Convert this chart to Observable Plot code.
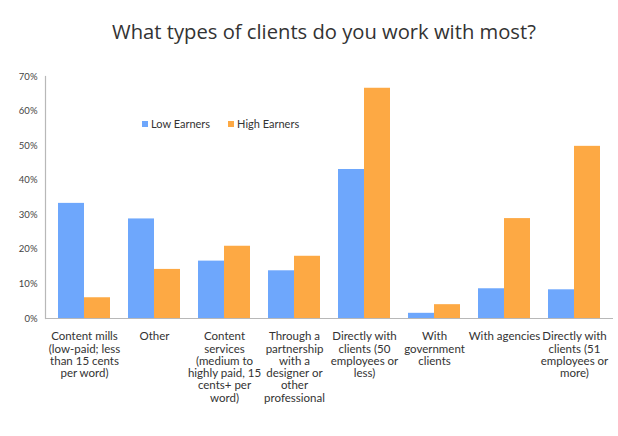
<!DOCTYPE html>
<html>
<head>
<meta charset="utf-8">
<script src="https://cdn.jsdelivr.net/npm/d3@7"></script>
<script src="https://cdn.jsdelivr.net/npm/@observablehq/plot@0.6"></script>
<style>
  html, body { margin: 0; padding: 0; background: #ffffff; }
  #wrap { position: relative; width: 618px; height: 436px; overflow: hidden; }
  #title { position: absolute; left: 15px; top: 17px; width: 618px; text-align: center;
           font-family: "Open Sans", sans-serif; font-size: 20.2px; color: #333; }
  #chart { position: absolute; left: 0; top: 60px; }
  #legend { position: absolute; left: 142px; top: 117px; font-family: Lato, sans-serif;
            font-size: 11px; color: #333; display: flex; gap: 18px; }
  #legend span.sw { display: inline-block; width: 6px; height: 6px; margin-right: 3px; vertical-align: 1px; }
</style>
</head>
<body>
<div id="wrap">
  <div id="title">What types of clients do you work with most?</div>
  <div id="chart"></div>
  <div id="legend"></div>
</div>
<script>
const categories = [
  "Content mills (low-paid; less than 15 cents per word)",
  "Other",
  "Content services (medium to highly paid, 15 cents+ per word)",
  "Through a partnership with a designer or other professional",
  "Directly with clients (50 employees or less)",
  "With government clients",
  "With agencies",
  "Directly with clients (51 employees or more)"
];
const tickLabels = [
  "Content mills\n(low-paid; less\nthan 15 cents\nper word)",
  "Other",
  "Content\nservices\n(medium to\nhighly paid, 15\ncents+ per\nword)",
  "Through a\npartnership\nwith a\ndesigner or\nother\nprofessional",
  "Directly with\nclients (50\nemployees or\nless)",
  "With\ngovernment\nclients",
  "With agencies",
  "Directly with\nclients (51\nemployees or\nmore)"
];
const series = ["Low Earners", "High Earners"];
const lowEarners  = [33.3, 28.8, 16.6, 13.8, 43.1, 1.5, 8.6, 8.3];
const highEarners = [6.0, 14.2, 20.9, 18.0, 66.6, 4.0, 28.9, 49.8];
const colors = ["#6ea7fc", "#fda944"];
const yTicks = [0, 10, 20, 30, 40, 50, 60, 70];

const data = categories.flatMap((c, i) => [
  {category: c, series: series[0], value: lowEarners[i]},
  {category: c, series: series[1], value: highEarners[i]}
]);
const labelOf = new Map(categories.map((c, i) => [c, tickLabels[i]]));

const chart = Plot.plot({
  width: 618,
  height: 376,
  marginLeft: 45,
  marginRight: 5,
  marginTop: 16,
  marginBottom: 118,
  style: {fontFamily: "Lato, sans-serif", background: "transparent", color: "#333"},
  x: {domain: categories, paddingInner: 0.264, paddingOuter: 0.145, label: null},
  y: {domain: [0, 70], label: null},
  color: {domain: series, range: colors},
  marks: [
    Plot.barY(data.filter(d => d.series === series[0]), {x: "category", y: "value", fill: "series", insetRight: 26}),
    Plot.barY(data.filter(d => d.series === series[1]), {x: "category", y: "value", fill: "series", insetLeft: 26}),
    Plot.axisY({ticks: yTicks, tickSize: 0, tickPadding: 8, tickFormat: d => d + "%", fontSize: 9.5, fill: "#444"}),
    Plot.axisX({tickSize: 0, tickPadding: 13, tickFormat: d => labelOf.get(d), fontSize: 11.5, lineHeight: 1.07, fill: "#333"}),
    Plot.ruleY([0], {stroke: "#b8b8b8", strokeWidth: 1.2}),
    Plot.frame({anchor: "left", stroke: "#b8b8b8", strokeWidth: 1.2})
  ]
});
document.getElementById("chart").appendChild(chart);

const legend = document.getElementById("legend");
series.forEach((s, i) => {
  const item = document.createElement("div");
  const sw = document.createElement("span");
  sw.className = "sw";
  sw.style.background = colors[i];
  item.appendChild(sw);
  item.appendChild(document.createTextNode(s));
  legend.appendChild(item);
});
</script>
</body>
</html>
